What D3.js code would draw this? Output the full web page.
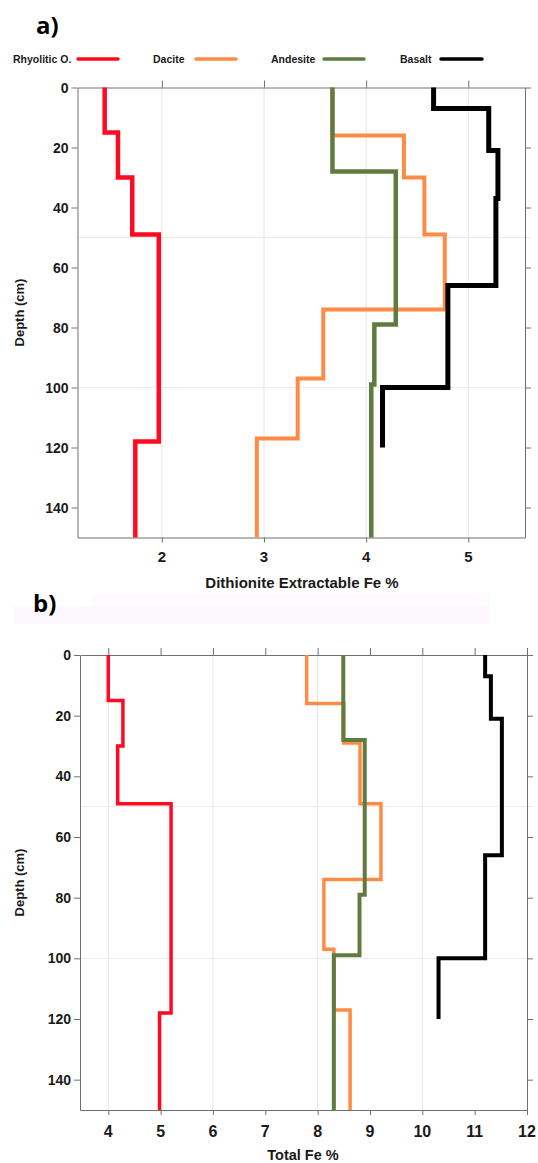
<!DOCTYPE html>
<html><head><meta charset="utf-8">
<script src="https://cdn.jsdelivr.net/npm/d3@7"></script>
<style>html,body{margin:0;padding:0;background:#fff}svg{display:block}</style>
</head><body>
<script>
// ---------- data ----------
const seriesNames = ["Rhyolitic O.", "Dacite", "Andesite", "Basalt"];
const seriesColors = ["#ff0a22", "#ff8c46", "#5f7b3f", "#000000"];
const depthTicks = [0, 20, 40, 60, 80, 100, 120, 140];

// Panel a: Dithionite extractable Fe % (layer boundaries in cm, value per layer)
const rhyoA_breaks = [0, 15, 30, 49, 118, 150];
const rhyoA_values = [1.44, 1.57, 1.71, 1.97, 1.74];
const daciteA_breaks = [0, 16, 30, 49, 74, 97, 117, 150];
const daciteA_values = [3.67, 4.37, 4.57, 4.77, 3.58, 3.33, 2.93];
const andesA_breaks = [0, 28, 79, 99, 150];
const andesA_values = [3.67, 4.29, 4.08, 4.05];
const basaltA_breaks = [0, 7, 21, 37, 66, 100, 120];
const basaltA_values = [4.66, 5.20, 5.29, 5.27, 4.80, 4.16];
const xTicksA = [2, 3, 4, 5];

// Panel b: Total Fe %
const rhyoB_breaks = [0, 15, 30, 49, 118, 150];
const rhyoB_values = [4.0, 4.28, 4.18, 5.2, 4.98];
const daciteB_breaks = [0, 16, 29, 49, 74, 97, 117, 150];
const daciteB_values = [7.79, 8.5, 8.81, 9.21, 8.12, 8.31, 8.62];
const andesB_breaks = [0, 28, 79, 99, 150];
const andesB_values = [8.49, 8.9, 8.80, 8.31];
const basaltB_breaks = [0, 7, 21, 66, 100, 120];
const basaltB_values = [11.2, 11.31, 11.52, 11.2, 10.31];
const xTicksB = [4, 5, 6, 7, 8, 9, 10, 11, 12];
const gridTicksB = [4, 6, 8, 10];

const W = 538, H = 1163;
const svg = d3.select("body").append("svg").attr("width", W).attr("height", H);
const FONT = "'Liberation Sans', Arial, sans-serif";

function stepPoints(breaks, values) {
  const pts = [];
  values.forEach((v, i) => { pts.push([v, breaks[i]]); pts.push([v, breaks[i + 1]]); });
  return pts;
}

function panel(cfg) {
  const g = svg.append("g");
  const x = d3.scaleLinear().domain(cfg.xDomain).range([cfg.left, cfg.right]);
  const y = d3.scaleLinear().domain([0, 150]).range([cfg.top, cfg.bottom]);

  // grid
  g.selectAll(".vg").data(cfg.gridX).enter().append("line")
    .attr("x1", d => x(d)).attr("x2", d => x(d)).attr("y1", cfg.top).attr("y2", cfg.bottom)
    .attr("stroke", "#e6e6e6").attr("stroke-width", 1);
  g.selectAll(".hg").data([50, 100]).enter().append("line")
    .attr("x1", cfg.left).attr("x2", d => d === 50 ? cfg.right + 6 : cfg.right).attr("y1", d => y(d)).attr("y2", d => y(d))
    .attr("stroke", "#ebebeb").attr("stroke-width", 1);

  // axes
  const axStyle = sel => { sel.select(".domain").attr("stroke", "#707070");
    sel.selectAll(".tick line").attr("stroke", "#707070"); sel.selectAll("text").remove(); };
  g.append("g").attr("transform", `translate(0,${cfg.top})`)
    .call(d3.axisTop(x).tickValues(cfg.xTicks).tickSize(7).tickSizeOuter(0)).call(axStyle);
  g.append("g").attr("transform", `translate(0,${cfg.bottom})`)
    .call(d3.axisBottom(x).tickValues(cfg.xTicks).tickSize(5).tickSizeOuter(0)).call(axStyle);
  g.append("g").attr("transform", `translate(${cfg.left},0)`)
    .call(d3.axisLeft(y).tickValues(depthTicks).tickSize(6).tickSizeOuter(0)).call(axStyle);
  g.append("g").attr("transform", `translate(${cfg.right},0)`)
    .call(d3.axisRight(y).tickValues(depthTicks).tickSize(6).tickSizeOuter(0)).call(axStyle);

  // tick labels
  g.selectAll(".yl").data(depthTicks).enter().append("text")
    .attr("x", cfg.left - 9).attr("y", d => y(d)).attr("dy", "0.36em")
    .attr("text-anchor", "end").attr("font-family", FONT).attr("font-weight", "bold")
    .attr("font-size", cfg.yFont).attr("fill", "#1a1a1a").text(d => d);
  g.selectAll(".xl").data(cfg.xTicks).enter().append("text")
    .attr("x", d => x(d)).attr("y", cfg.xLabelY).attr("dy", "0.36em")
    .attr("text-anchor", "middle").attr("font-family", FONT).attr("font-weight", "bold")
    .attr("font-size", cfg.xFont).attr("fill", "#1a1a1a").text(d => d);

  // axis titles
  g.append("text").attr("transform", `translate(${cfg.yTitleX},${(cfg.top + cfg.bottom) / 2}) rotate(-90)`)
    .attr("text-anchor", "middle").attr("dy", "0.36em").attr("font-family", FONT).attr("font-weight", "bold")
    .attr("font-size", 13).attr("fill", "#1a1a1a").text("Depth (cm)");
  g.append("text").attr("x", cfg.xTitleX).attr("y", cfg.xTitleY).attr("dy", "0.36em")
    .attr("text-anchor", "middle").attr("font-family", FONT).attr("font-weight", "bold")
    .attr("font-size", cfg.xTitleFont).attr("fill", "#1a1a1a").text(cfg.xTitle);

  // series
  const line = d3.line().x(d => x(d[0])).y(d => y(d[1]));
  cfg.series.forEach((s, i) => {
    g.append("path").attr("d", line(stepPoints(s[0], s[1])))
      .attr("fill", "none").attr("stroke", seriesColors[i]).attr("stroke-width", cfg.widths[i])
      .attr("stroke-linejoin", "miter").attr("stroke-linecap", "butt");
  });

  // panel label
  svg.append("text").attr("x", cfg.labelX).attr("y", cfg.labelY)
    .attr("font-family", "'Open Sans', 'Liberation Sans', sans-serif").attr("font-weight", "bold")
    .attr("font-size", 24).attr("fill", "#000").text(cfg.label);
}

// faint artifact bands above panel b
svg.append("rect").attr("x", 92).attr("y", 594).attr("width", 398).attr("height", 12).attr("fill", "#fefafe");
svg.append("rect").attr("x", 14).attr("y", 606).attr("width", 476).attr("height", 18).attr("fill", "#fdf8fd");

panel({
  label: "a)", labelX: 36, labelY: 34,
  xDomain: [1.174, 5.555], left: 77.5, right: 525, top: 87.5, bottom: 537.5,
  xTicks: xTicksA, gridX: xTicksA, yFont: 14, xFont: 15, xLabelY: 557,
  yTitleX: 19, xTitle: "Dithionite Extractable Fe %", xTitleX: 302, xTitleY: 583, xTitleFont: 15,
  widths: [4.5, 4, 4.5, 5],
  series: [[rhyoA_breaks, rhyoA_values], [daciteA_breaks, daciteA_values],
           [andesA_breaks, andesA_values], [basaltA_breaks, basaltA_values]]
});

panel({
  label: "b)", labelX: 33, labelY: 612,
  xDomain: [3.46, 12.0], left: 80, right: 527, top: 655, bottom: 1110,
  xTicks: xTicksB, gridX: gridTicksB, yFont: 14, xFont: 16, xLabelY: 1131,
  yTitleX: 19, xTitle: "Total Fe %", xTitleX: 303, xTitleY: 1155, xTitleFont: 14.5,
  widths: [3.5, 3.5, 4, 4],
  series: [[rhyoB_breaks, rhyoB_values], [daciteB_breaks, daciteB_values],
           [andesB_breaks, andesB_values], [basaltB_breaks, basaltB_values]]
});

// legend
const legX = [13, 153, 271, 400];
const legLine = [[78, 118], [196, 236], [324, 364], [441, 482]];
seriesNames.forEach((n, i) => {
  svg.append("text").attr("x", legX[i]).attr("y", 59).attr("dy", "0.36em")
    .attr("font-family", FONT).attr("font-weight", "bold").attr("font-size", 10.5)
    .attr("fill", "#1a1a1a").text(n);
  svg.append("line").attr("x1", legLine[i][0]).attr("x2", legLine[i][1]).attr("y1", 59).attr("y2", 59)
    .attr("stroke", seriesColors[i]).attr("stroke-width", 3.5).attr("stroke-linecap", "round");
});
</script>
</body></html>
